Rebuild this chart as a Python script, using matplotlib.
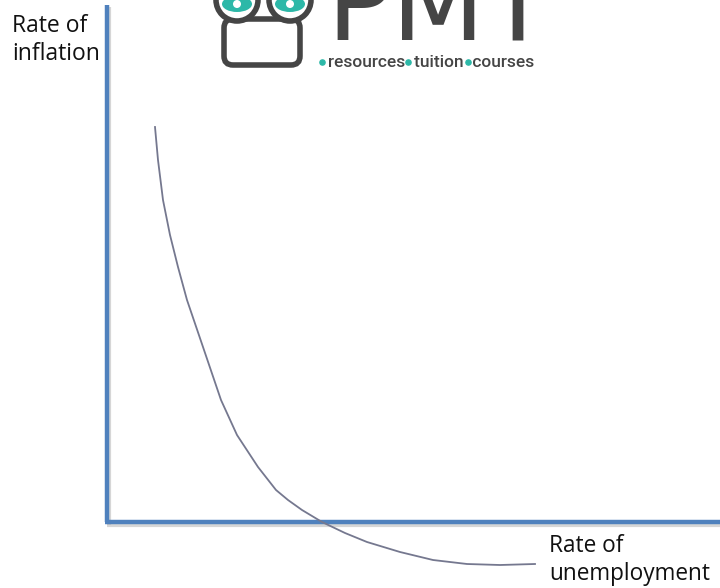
"""
Phillips curve sketch: rate of inflation against rate of unemployment.
"""
import matplotlib
matplotlib.use('Agg')
import matplotlib.pyplot as plt
from matplotlib.patches import FancyBboxPatch, Circle, Ellipse

# curve (arbitrary units, origin at the axes corner)
unemployment = [48, 51, 56, 63, 71, 80, 96, 114, 130, 151, 169, 181, 195,
                215, 238, 260, 293, 326, 360, 393, 428]
inflation = [395, 362, 322, 287, 255, 222, 175, 122, 87, 55, 32, 22, 12,
             0, -11, -20, -30, -38, -42, -43, -42]

x_label = 'Rate of\nunemployment'
y_label = 'Rate of\ninflation'
logo_big = 'PMT'
logo_words = ['resources', 'tuition', 'courses']

axis_blue = '#4F81BD'
curve_grey = '#75788F'
logo_grey = '#454545'
logo_teal = '#2DB8A8'

fig = plt.figure(figsize=(7.2, 5.88), dpi=100)
ax = fig.add_axes([0, 0, 1, 1])
ax.set_xlim(-107, 613)
ax.set_ylim(-66, 522)
ax.axis('off')

# axes drawn as thick blue lines with a faint shadow
ax.plot([2, 2], [-3, 515], color='#BBBBBB', lw=3, alpha=0.6, solid_capstyle='butt')
ax.plot([0, 613], [-3, -3], color='#BBBBBB', lw=3, alpha=0.6, solid_capstyle='butt')
ax.plot([0, 0], [0, 517], color=axis_blue, lw=3.2, solid_capstyle='butt')
ax.plot([-2, 613], [0, 0], color=axis_blue, lw=3.2, solid_capstyle='butt')

ax.plot(unemployment, inflation, color=curve_grey, lw=1.3)

ax.text(-95, 508, y_label, fontsize=16.5, family='Open Sans', va='top',
        ha='left', linespacing=1.2, color='#111111')
ax.text(442, -12, x_label, fontsize=16.3, family='Open Sans', va='top',
        ha='left', linespacing=1.2, color='#111111')

# PMT logo at the top
ax.text(219, 482, logo_big, fontsize=78, color=logo_grey, ha='left',
        va='baseline', family='DejaVu Sans')
ax.text(221, 455, '  '.join(logo_words), fontsize=12.5, color=logo_grey,
        ha='left', va='baseline', family='Roboto', fontweight='medium')
dot_x = [215, 301, 361]
ax.scatter(dot_x, [460] * 3, s=14, color=logo_teal, zorder=3)

box = FancyBboxPatch((117, 457), 76, 46, boxstyle='round,pad=0,rounding_size=9',
                     fill=False, ec=logo_grey, lw=4)
ax.add_patch(box)
for cx in [130, 183]:
    ax.add_patch(Circle((cx, 522), 21, fc='white', ec=logo_grey, lw=4, zorder=4))
    ax.add_patch(Ellipse((cx, 518), 30, 16, fc=logo_teal, ec='none', zorder=5))
    ax.add_patch(Circle((cx, 518), 4, fc='white', ec='none', zorder=6))

fig.savefig('out.png', dpi=100)
